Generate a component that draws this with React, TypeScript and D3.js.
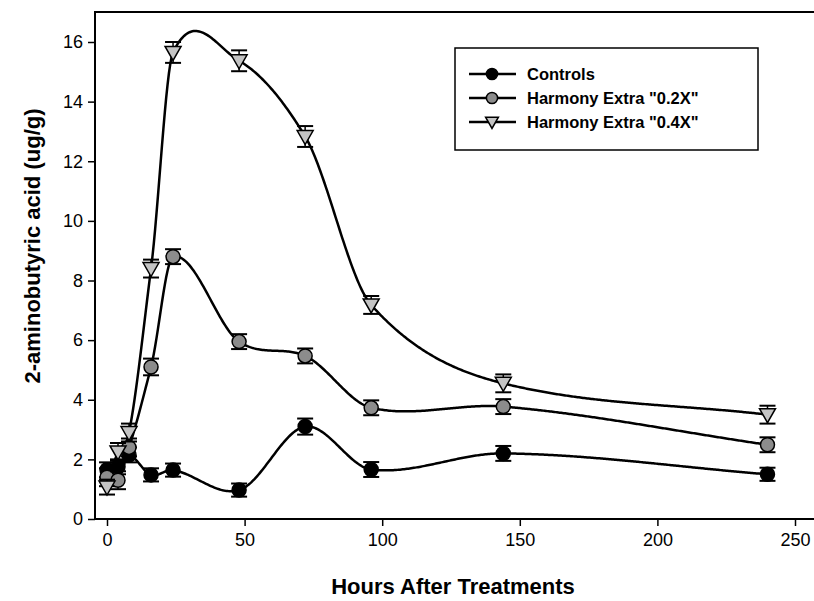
import { useRef, useEffect } from "react";
import * as d3 from "d3";

// sampling times (hours after treatment)
const hours = [0, 4, 8, 16, 24, 48, 72, 96, 144, 240];

const controls = [1.65, 1.75, 2.15, 1.48, 1.64, 0.97, 3.1, 1.66, 2.2, 1.5];
const controlsErr = [0.25, 0.25, 0.25, 0.22, 0.22, 0.22, 0.27, 0.25, 0.25, 0.22];

const extra02 = [1.4, 1.3, 2.4, 5.1, 8.8, 5.95, 5.47, 3.73, 3.77, 2.49];
const extra02Err = [0.3, 0.3, 0.3, 0.28, 0.25, 0.25, 0.25, 0.25, 0.25, 0.25];

const extra04 = [1.07, 2.25, 2.9, 8.4, 15.65, 15.37, 12.83, 7.18, 4.55, 3.5];
const extra04Err = [0.25, 0.3, 0.3, 0.3, 0.35, 0.35, 0.35, 0.3, 0.3, 0.3];

const xTicks = [0, 50, 100, 150, 200, 250];
const yTicks = [0, 2, 4, 6, 8, 10, 12, 14, 16];

const seriesNames = ["Controls", 'Harmony Extra "0.2X"', 'Harmony Extra "0.4X"'];

const FONT = "'Liberation Sans', Arial, Helvetica, sans-serif";

// smooth curve y(x): cubic hermite with finite-difference slopes (slight tension)
function smoothCurve(xs: number[], ys: number[], k = 0.9) {
  const n = xs.length;
  const m = xs.map((_, i) => {
    if (i === 0) return (ys[1] - ys[0]) / (xs[1] - xs[0]);
    if (i === n - 1) return (ys[n - 1] - ys[n - 2]) / (xs[n - 1] - xs[n - 2]);
    return (k * (ys[i + 1] - ys[i - 1])) / (xs[i + 1] - xs[i - 1]);
  });
  return (x: number) => {
    let i = 0;
    while (i < n - 2 && x > xs[i + 1]) i++;
    const h = xs[i + 1] - xs[i];
    const t = (x - xs[i]) / h;
    const t2 = t * t, t3 = t2 * t;
    return (2 * t3 - 3 * t2 + 1) * ys[i] + (t3 - 2 * t2 + t) * h * m[i] +
      (-2 * t3 + 3 * t2) * ys[i + 1] + (t3 - t2) * h * m[i + 1];
  };
}

function App() {
  const ref = useRef<SVGSVGElement>(null);

  useEffect(() => {
    const svg = d3.select(ref.current);
    svg.selectAll("*").remove();

    const x = d3.scaleLinear().domain([0, 250]).range([107, 795]);
    const y = d3.scaleLinear().domain([0, 16]).range([519, 42]);

    const left = 95, top = 12, bottom = 519, right = 816;

    // frame
    svg.append("path")
      .attr("d", `M${left},${bottom}V${top}H${right}`)
      .attr("fill", "none")
      .attr("stroke", "black")
      .attr("stroke-width", 2);
    svg.append("line")
      .attr("x1", left).attr("x2", right)
      .attr("y1", bottom).attr("y2", bottom)
      .attr("stroke", "black").attr("stroke-width", 2);

    // y axis
    const yAxis = svg.append("g").attr("transform", `translate(${left},0)`)
      .call(d3.axisLeft(y).tickValues(yTicks).tickSize(7).tickPadding(5).tickFormat(d3.format("d")));
    yAxis.select(".domain").remove();
    yAxis.selectAll("line").attr("stroke-width", 1.5);
    yAxis.selectAll("text").attr("font-size", 18).attr("font-family", FONT).attr("fill", "black");

    // x axis
    const xAxis = svg.append("g").attr("transform", `translate(0,${bottom})`)
      .call(d3.axisBottom(x).tickValues(xTicks).tickSize(7).tickPadding(7).tickFormat(d3.format("d")));
    xAxis.select(".domain").remove();
    xAxis.selectAll("line").attr("stroke-width", 1.5);
    xAxis.selectAll("text").attr("font-size", 18).attr("font-family", FONT).attr("fill", "black");

    // axis titles
    svg.append("text")
      .attr("x", 453).attr("y", 594)
      .attr("text-anchor", "middle")
      .attr("font-family", FONT).attr("font-weight", "bold").attr("font-size", 22)
      .text("Hours After Treatments");
    svg.append("text")
      .attr("transform", `translate(40,${246}) rotate(-90)`)
      .attr("text-anchor", "middle")
      .attr("font-family", FONT).attr("font-weight", "bold").attr("font-size", 22)
      .text("2-aminobutyric acid (ug/g)");

    const series = [
      { values: controls, err: controlsErr, marker: "dot", fill: "black" },
      { values: extra02, err: extra02Err, marker: "dot", fill: "#8c8c8c" },
      { values: extra04, err: extra04Err, marker: "tri", fill: "#c4c4c4" },
    ];

    const line = d3.line<[number, number]>().x((d) => x(d[0])).y((d) => y(d[1]));
    const samples = d3.range(0, 240.01, 0.5);

    const drawMarker = (g: any, kind: string, fill: string, cx: number, cy: number, k = 1) => {
      if (kind === "dot") {
        g.append("circle")
          .attr("cx", cx).attr("cy", cy).attr("r", 7 * k)
          .attr("fill", fill).attr("stroke", "black").attr("stroke-width", 1.5);
      } else {
        g.append("path")
          .attr("d", `M${cx - 8 * k},${cy - 6 * k}L${cx + 8 * k},${cy - 6 * k}L${cx},${cy + 8 * k}Z`)
          .attr("fill", fill).attr("stroke", "black").attr("stroke-width", 1.5);
      }
    };

    series.forEach((s) => {
      const f = smoothCurve(hours, s.values);
      svg.append("path")
        .datum(samples.map((t) => [t, f(t)] as [number, number]))
        .attr("d", line)
        .attr("fill", "none")
        .attr("stroke", "black")
        .attr("stroke-width", 2.5);
    });

    series.forEach((s) => {
      const g = svg.append("g");
      hours.forEach((h, i) => {
        const cx = x(h);
        const y0 = y(s.values[i] - s.err[i]);
        const y1 = y(s.values[i] + s.err[i]);
        g.append("line").attr("x1", cx).attr("x2", cx).attr("y1", y0).attr("y2", y1)
          .attr("stroke", "black").attr("stroke-width", 1.5);
        [y0, y1].forEach((yy) => {
          g.append("line").attr("x1", cx - 8).attr("x2", cx + 8).attr("y1", yy).attr("y2", yy)
            .attr("stroke", "black").attr("stroke-width", 2);
        });
        drawMarker(g, s.marker, s.fill, cx, y(s.values[i]));
      });
    });

    // legend
    const lg = svg.append("g");
    lg.append("rect")
      .attr("x", 455).attr("y", 48).attr("width", 303).attr("height", 102)
      .attr("fill", "white").attr("stroke", "black").attr("stroke-width", 1.5);
    series.forEach((s, i) => {
      const ly = 74 + i * 24;
      lg.append("line").attr("x1", 469).attr("x2", 516).attr("y1", ly).attr("y2", ly)
        .attr("stroke", "black").attr("stroke-width", 2.5);
      drawMarker(lg, s.marker, s.fill, 492, ly, 0.8);
      lg.append("text")
        .attr("x", 527).attr("y", ly).attr("dy", "0.36em")
        .attr("font-family", FONT).attr("font-weight", "bold").attr("font-size", 16.5)
        .text(seriesNames[i]);
    });
  }, []);

  return (
    <svg
      ref={ref}
      width={814}
      height={601}
      style={{ position: "absolute", left: 0, top: 0, background: "white" }}
    />
  );
}

export default App;
